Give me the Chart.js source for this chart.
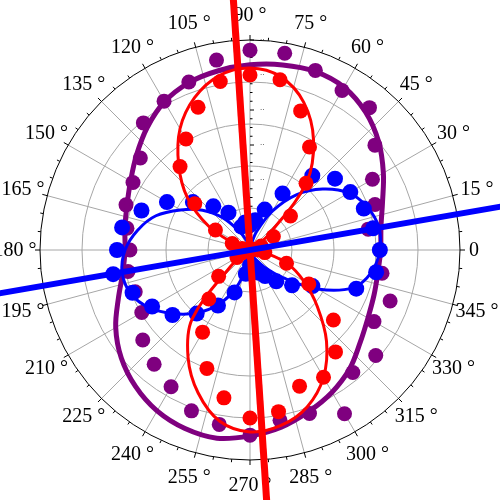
<!DOCTYPE html>
<html>
<head>
<meta charset="utf-8">
<script src="https://cdn.jsdelivr.net/npm/chart.js@4/dist/chart.umd.min.js"></script>
<style>
html,body{margin:0;padding:0;background:#fff;}
#wrap{width:500px;height:500px;}
</style>
</head>
<body>
<div id="wrap"><canvas id="c" width="500" height="500"></canvas></div>
<script>
// ---- data (radius in axis units, outer ring = 6; angle in degrees) ----
const angles = [0,10,20,30,40,50,60,70,80,90,100,110,120,130,140,150,160,170,180,190,200,210,220,230,240,250,260,270,280,290,300,310,320,330,340,350];
const purplePoints = [3.71,3.43,3.80,4.04,4.66,5.31,5.26,5.46,5.71,5.71,5.51,5.11,4.91,4.74,4.09,3.86,3.77,3.57,3.43,3.54,3.49,3.57,4.00,4.26,4.51,4.89,5.06,5.29,4.94,4.97,5.40,4.57,4.69,4.09,4.26,3.83];
const purpleFit = [3.74,3.80,4.03,4.40,4.80,5.14,5.37,5.43,5.37,5.29,5.20,5.09,4.89,4.57,4.23,3.94,3.74,3.63,3.57,3.69,4.00,4.43,4.80,5.09,5.31,5.43,5.46,5.31,5.14,4.91,4.69,4.43,4.11,3.89,3.77,3.71];
const redPoints = [0.23,0.14,0.34,0.77,1.51,2.49,3.40,4.23,4.94,5.00,4.89,4.34,3.66,3.11,2.06,1.14,0.54,0.23,0.14,0.17,0.23,0.43,1.17,1.83,2.71,3.60,4.29,4.80,4.69,4.14,4.20,3.80,3.11,1.94,1.11,0.43];
const redFit = [0.09,0.03,0.06,0.17,0.74,2.51,3.63,4.49,5.03,5.20,5.06,4.63,4.00,3.17,2.34,1.37,0.43,0.09,0.03,0.03,0.06,0.14,0.71,2.57,3.54,4.34,4.97,5.20,5.09,4.77,4.20,3.40,2.51,1.77,1.14,0.43];
const bluePoints = [3.71,3.57,3.46,3.31,3.17,2.77,1.86,1.23,0.86,0.71,0.80,0.71,1.23,1.63,2.13,2.74,3.30,3.71,3.80,3.97,3.57,3.23,2.89,2.37,1.83,1.29,0.69,0.43,0.51,0.69,0.86,1.17,1.57,2.06,3.23,3.66];
const blueFit = [3.74,3.74,3.57,3.26,2.71,2.06,1.29,0.57,0.14,0.03,0.09,0.29,0.63,1.20,1.77,2.29,2.86,3.26,3.57,3.71,3.63,3.31,2.83,2.34,1.80,1.14,0.43,0.09,0.03,0.14,0.29,0.63,1.23,2.23,3.14,3.54];
const redAxisAngle = 93.8;
const blueAxisAngle = 9.8;
const angleTicks = [0,15,30,45,60,75,90,105,120,135,150,165,180,195,210,225,240,255,270,285,300,315,330,345];
const angleTickLabels = ['0','15 °','30 °','45 °','60 °','75 °','90 °','105 °','120 °','135 °','150 °','165 °','180 °','195 °','210 °','225 °','240 °','255 °','270 °','285 °','300 °','315 °','330 °','345 °'];
const ringValues = [1.2,2.4,3.6,4.8];
const radialMax = 6;
const radialTickLabels = ['..','..','..','..','..','..'];

// ---- helpers ----
function pol(r, deg){ const a = deg*Math.PI/180; return {x: r*Math.cos(a), y: r*Math.sin(a)}; }
function series(rs, closed){ const p = rs.map((r,i)=>pol(r, angles[i])); if(closed) p.push(pol(rs[0], angles[0])); return p; }
function axisLine(deg){ return [pol(12, deg), pol(12, deg+180)]; }

const PURPLE = '#7f007f', RED = '#ff0000', BLUE = '#0000ff';
const half = 250/35;

const polarGrid = {
  id: 'polarGrid',
  beforeDatasetsDraw(chart){
    const ctx = chart.ctx, xs = chart.scales.x, ys = chart.scales.y;
    const cx = xs.getPixelForValue(0), cy = ys.getPixelForValue(0);
    const u = xs.getPixelForValue(1) - cx;
    const R = radialMax*u;
    ctx.save();
    ctx.strokeStyle = '#a6a6a6'; ctx.lineWidth = 1;
    ringValues.forEach(v=>{ ctx.beginPath(); ctx.arc(cx, cy, v*u, 0, Math.PI*2); ctx.stroke(); });
    angleTicks.forEach(d=>{ const a=d*Math.PI/180; ctx.beginPath(); ctx.moveTo(cx,cy); ctx.lineTo(cx+R*Math.cos(a), cy-R*Math.sin(a)); ctx.stroke(); });
    // outer circle
    ctx.strokeStyle = '#000'; ctx.lineWidth = 1;
    ctx.beginPath(); ctx.arc(cx, cy, R, 0, Math.PI*2); ctx.stroke();
    for(let d=0; d<360; d+=5){
      const a=d*Math.PI/180, L = (d%15===0)?5:3;
      ctx.beginPath(); ctx.moveTo(cx+R*Math.cos(a), cy-R*Math.sin(a)); ctx.lineTo(cx+(R+L)*Math.cos(a), cy-(R+L)*Math.sin(a)); ctx.stroke();
    }
    // radial ticks along 90 deg axis
    for(let v=0.25; v<=radialMax+0.001; v+=0.25){
      const y = cy - v*u, L = (Math.abs(v-Math.round(v))<0.01)?4:2.5;
      ctx.beginPath(); ctx.moveTo(cx, y); ctx.lineTo(cx+L, y); ctx.stroke();
    }
    ctx.fillStyle = '#000'; ctx.font = '7px "DejaVu Sans"'; ctx.textAlign='left'; ctx.textBaseline='middle';
    radialTickLabels.forEach((t,i)=>{ ctx.fillText(t, cx+10, cy-(i+1)*u - 2); });
    // angle labels
    ctx.font = '20px "Liberation Serif"'; ctx.textAlign='center'; ctx.textBaseline='middle';
    angleTicks.forEach((d,i)=>{
      const t = angleTickLabels[i]; const rr = t.indexOf('°')<0 ? R+14 : R+25;
      const a=d*Math.PI/180;
      ctx.fillText(t, cx+rr*Math.cos(a), cy-rr*Math.sin(a)+1);
    });
    ctx.restore();
  }
};

new Chart(document.getElementById('c'), {
  type: 'scatter',
  data: { datasets: [
    {label:'blue axis', data: axisLine(blueAxisAngle), showLine:true, borderColor:BLUE, borderWidth:6, pointRadius:0, fill:false},
    {label:'red axis', data: axisLine(redAxisAngle), showLine:true, borderColor:RED, borderWidth:7, pointRadius:0, fill:false},
    {label:'red fit', data: series(redFit,true), showLine:true, borderColor:RED, borderWidth:3, pointRadius:0, tension:0.35, fill:false},
    {label:'red pts', data: series(redPoints,false), showLine:false, backgroundColor:RED, borderWidth:0, pointRadius:7.5},
    {label:'blue fit', data: series(blueFit,true), showLine:true, borderColor:BLUE, borderWidth:3, pointRadius:0, tension:0.35, fill:false},
    {label:'blue pts', data: series(bluePoints,false), showLine:false, backgroundColor:BLUE, borderWidth:0, pointRadius:8},
    {label:'purple fit', data: series(purpleFit,true), showLine:true, borderColor:PURPLE, borderWidth:5, pointRadius:0, tension:0.35, fill:false},
    {label:'purple pts', data: series(purplePoints,false), showLine:false, backgroundColor:PURPLE, borderWidth:0, pointRadius:7.5}
  ]},
  options: {
    responsive:false, animation:false, devicePixelRatio:1,
    layout:{padding:0, autoPadding:false},
    scales:{
      x:{type:'linear', min:-half, max:half, display:false},
      y:{type:'linear', min:-half, max:half, display:false}
    },
    plugins:{legend:{display:false}, tooltip:{enabled:false}},
    elements:{point:{hoverRadius:0}}
  },
  plugins:[polarGrid]
});
</script>
</body>
</html>
